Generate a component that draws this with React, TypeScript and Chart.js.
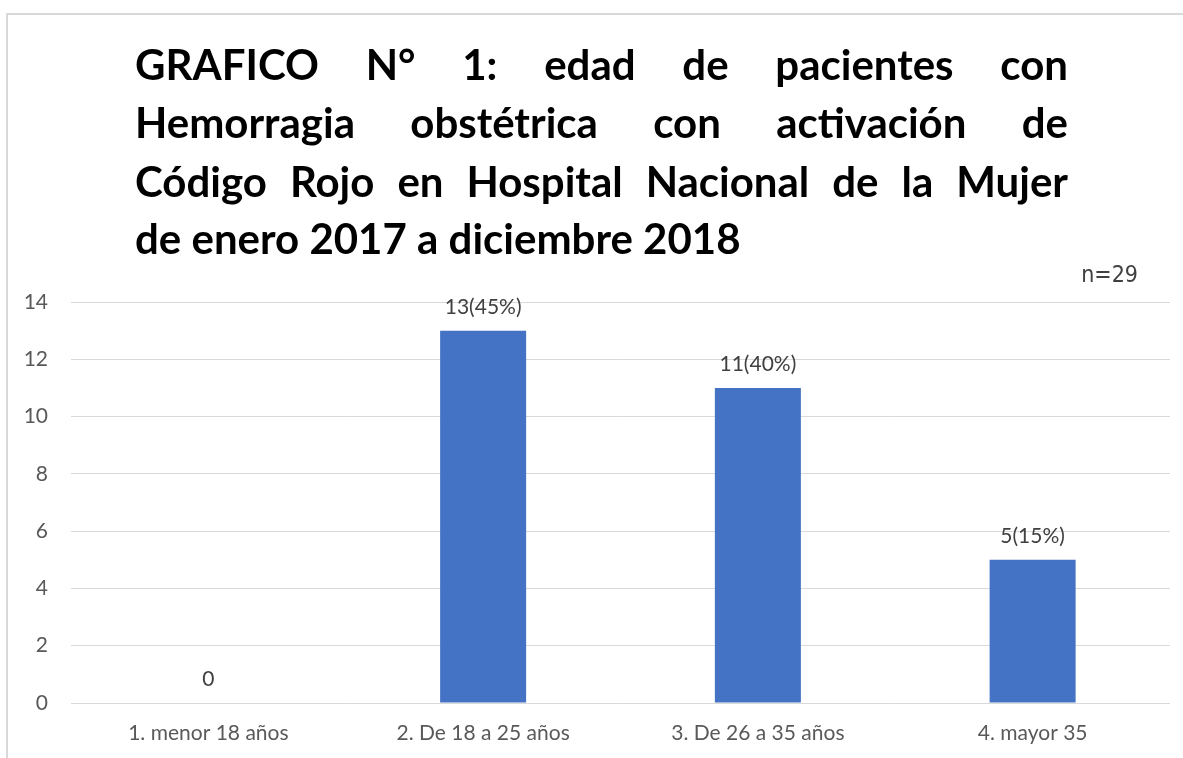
import React, { useEffect, useRef } from "react";
import { Chart, registerables } from "chart.js";

Chart.register(...registerables);

const categories = ["1. menor 18 años", "2. De 18 a 25 años", "3. De 26 a 35 años", "4. mayor 35"];
const values = [0, 13, 11, 5];
const barLabels = ["0", "13(45%)", "11(40%)", "5(15%)"];
const titleLines = [
  "GRAFICO N° 1: edad de pacientes con",
  "Hemorragia obstétrica con activación de",
  "Código Rojo en Hospital Nacional de la Mujer",
  "de enero 2017 a diciembre 2018",
];
const noteText = "n=29";

const FONT = "Lato, 'Open Sans', sans-serif";

const framePlugin = {
  id: "frame",
  beforeDraw(chart: any) {
    const ctx = chart.ctx;
    ctx.save();
    ctx.fillStyle = "#ffffff";
    ctx.fillRect(0, 0, chart.width, chart.height);
    ctx.strokeStyle = "#d9d9d9";
    ctx.lineWidth = 2;
    ctx.beginPath();
    ctx.moveTo(7, chart.height);
    ctx.lineTo(7, 14);
    ctx.lineTo(chart.width, 14);
    ctx.stroke();
    ctx.restore();
  },
};

const titlePlugin = {
  id: "justTitle",
  afterDraw(chart: any) {
    const ctx = chart.ctx;
    ctx.save();
    const left = 135;
    const right = 1068;
    const width = right - left;
    let size = 42;
    ctx.font = `bold ${size}px ${FONT}`;
    const w3 = ctx.measureText(titleLines[2]).width;
    if (w3 > width - 20) size = (size * (width - 20)) / w3;
    ctx.font = `bold ${size}px ${FONT}`;
    ctx.fillStyle = "#000000";
    ctx.textBaseline = "alphabetic";
    ctx.textAlign = "left";
    const baselines = [80, 138, 197, 254];
    titleLines.forEach((line, i) => {
      const words = line.split(" ");
      const y = baselines[i];
      if (i === titleLines.length - 1) {
        const sp = ctx.measureText(" ").width;
        let x = left;
        words.forEach((w) => {
          ctx.fillText(w, x, y);
          x += ctx.measureText(w).width + sp;
        });
      } else {
        const total = words.reduce((a, w) => a + ctx.measureText(w).width, 0);
        const gap = (width - total) / (words.length - 1);
        let x = left;
        words.forEach((w) => {
          ctx.fillText(w, x, y);
          x += ctx.measureText(w).width + gap;
        });
      }
    });
    ctx.font = `23px 'Liberation Sans Narrow', 'DejaVu Sans Condensed', ${FONT}`;
    ctx.fillStyle = "#404040";
    ctx.textAlign = "right";
    ctx.fillText(noteText, 1138, 282);
    ctx.restore();
  },
};

const barLabelPlugin = {
  id: "barLabels",
  afterDatasetsDraw(chart: any) {
    const ctx = chart.ctx;
    const meta = chart.getDatasetMeta(0);
    ctx.save();
    ctx.font = `21px ${FONT}`;
    ctx.fillStyle = "#404040";
    ctx.textAlign = "center";
    ctx.textBaseline = "alphabetic";
    meta.data.forEach((bar: any, i: number) => {
      ctx.fillText(barLabels[i], bar.x, bar.y - 17);
    });
    ctx.restore();
  },
};

export default function App() {
  const ref = useRef<HTMLCanvasElement>(null);
  useEffect(() => {
    if (!ref.current) return;
    const chart = new Chart(ref.current, {
      type: "bar",
      data: {
        labels: categories,
        datasets: [
          {
            data: values,
            backgroundColor: "#4472c4",
            borderWidth: 0,
            categoryPercentage: 1,
            barPercentage: 0.313,
          },
        ],
      },
      options: {
        responsive: false,
        animation: false,
        events: [],
        layout: { padding: { top: 302, left: 0, right: 13, bottom: 5 } },
        plugins: {
          legend: { display: false },
          title: { display: false },
          tooltip: { enabled: false },
        },
        scales: {
          x: {
            grid: { display: false, drawTicks: false },
            border: { display: false },
            ticks: {
              color: "#595959",
              font: { family: FONT, size: 21 },
              padding: 18,
              maxRotation: 0,
            },
            afterFit: (s: any) => {
              s.height = 50;
            },
          },
          y: {
            min: 0,
            max: 14,
            ticks: {
              stepSize: 2,
              color: "#595959",
              font: { family: FONT, size: 21 },
              padding: 23,
            },
            grid: { color: "#d9d9d9", lineWidth: 1, drawTicks: false },
            border: { display: false },
            afterFit: (s: any) => {
              s.width = 71;
            },
          },
        },
      },
      plugins: [framePlugin, titlePlugin, barLabelPlugin],
    });
    return () => chart.destroy();
  }, []);
  return (
    <canvas
      ref={ref}
      width={1183}
      height={758}
      style={{ position: "fixed", left: 0, top: 0, width: 1183, height: 758 }}
    />
  );
}
